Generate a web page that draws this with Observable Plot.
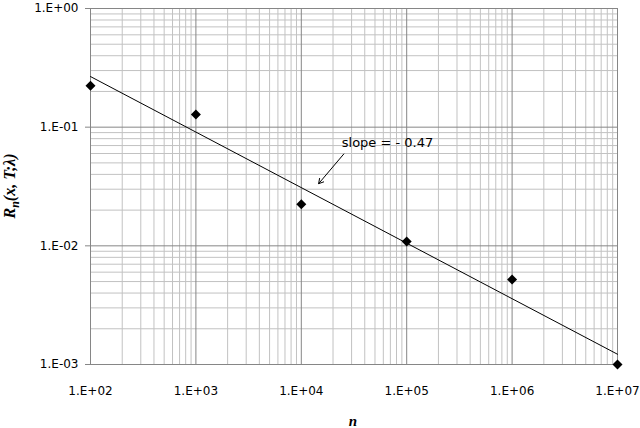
<!DOCTYPE html>
<html><head><meta charset="utf-8">
<script src="https://cdn.jsdelivr.net/npm/d3@7"></script>
<script src="https://cdn.jsdelivr.net/npm/@observablehq/plot@0.6"></script>
<style>body{margin:0;background:#fff;overflow:hidden}</style>
</head><body><div id="chart"></div>
<script>
// Data points (n, R_n)
const nValues = [1e2, 1e3, 1e4, 1e5, 1e6, 1e7];
const rValues = [0.223, 0.128, 0.0224, 0.0109, 0.0052, 0.0010];
// Fitted power-law line end points
const fitN = [1e2, 1e7];
const fitR = [0.267, 0.00122];
// Axis ticks
const xTicks = [1e2, 1e3, 1e4, 1e5, 1e6, 1e7];
const yTicks = [1e-3, 1e-2, 1e-1, 1e0];
// Annotation
const slopeLabel = ["slope = - 0.47"];
const labelPos = [24200, 0.0735];
const arrowFrom = [25300, 0.0594];
const arrowTo = [14600, 0.0334];

const minorOf = (majors) => {
  const out = [];
  for (let i = 0; i < majors.length - 1; i++)
    for (let k = 2; k <= 9; k++) out.push(k * majors[i]);
  return out;
};
const xMinor = minorOf(xTicks);
const yMinor = minorOf(yTicks);

const fmt = d => {
  const e = Math.round(Math.log10(d));
  return "1.E" + (e < 0 ? "-" : "+") + String(Math.abs(e)).padStart(2, "0");
};

const points = nValues.map((n, i) => ({n, r: rValues[i]}));
const fit = fitN.map((n, i) => ({n, r: fitR[i]}));

const plot = Plot.plot({
  width: 640, height: 428,
  marginTop: 8, marginBottom: 64, marginLeft: 90, marginRight: 23,
  x: {type: "log", domain: [1e2, 1e7]},
  y: {type: "log", domain: [1e-3, 1]},
  style: {fontFamily: "DejaVu Sans", fontSize: "12px", color: "#000", background: "#fff"},
  marks: [
    Plot.ruleX(xMinor, {stroke: "#c2c2c2", strokeWidth: 1}),
    Plot.ruleY(yMinor, {stroke: "#c2c2c2", strokeWidth: 1}),
    Plot.ruleX(xTicks, {stroke: "#868686", strokeWidth: 1}),
    Plot.ruleY(yTicks, {stroke: "#868686", strokeWidth: 1}),
    Plot.axisY({ticks: yTicks, tickFormat: fmt, tickSize: 5, tickPadding: 7, stroke: "#868686", label: null, fontSize: 12}),
    Plot.axisX({ticks: xTicks, tickFormat: fmt, tickSize: 0, tickPadding: 22, label: null, fontSize: 12}),
    Plot.line(fit, {x: "n", y: "r", stroke: "#000", strokeWidth: 1}),
    Plot.dot(points, {x: "n", y: "r", symbol: "diamond2", r: 4.5, fill: "#000", stroke: "none"}),
    Plot.arrow([0], {x1: () => arrowFrom[0], y1: () => arrowFrom[1], x2: () => arrowTo[0], y2: () => arrowTo[1], stroke: "#000", strokeWidth: 1, headLength: 8}),
    Plot.text(slopeLabel, {x: () => labelPos[0], y: () => labelPos[1], text: d => d, textAnchor: "start", fontSize: 13, fill: "#000"})
  ]
});

const svg = d3.select(plot);
// y-axis title
const yl = svg.append("text")
  .attr("transform", "translate(15,186) rotate(-90)")
  .attr("text-anchor", "middle")
  .attr("font-family", "Liberation Serif")
  .attr("font-weight", "bold").attr("font-style", "italic")
  .attr("font-size", 16).attr("fill", "#000");
yl.append("tspan").text("R");
yl.append("tspan").attr("dy", 4).attr("font-size", 12).text("n");
yl.append("tspan").attr("dy", -4).text("(x, T;λ)");
// x-axis title
svg.append("text")
  .attr("x", 353).attr("y", 426)
  .attr("text-anchor", "middle")
  .attr("font-family", "Liberation Serif")
  .attr("font-weight", "bold").attr("font-style", "italic")
  .attr("font-size", 15).attr("fill", "#000")
  .text("n");

document.getElementById("chart").appendChild(plot);
</script>
</body></html>
